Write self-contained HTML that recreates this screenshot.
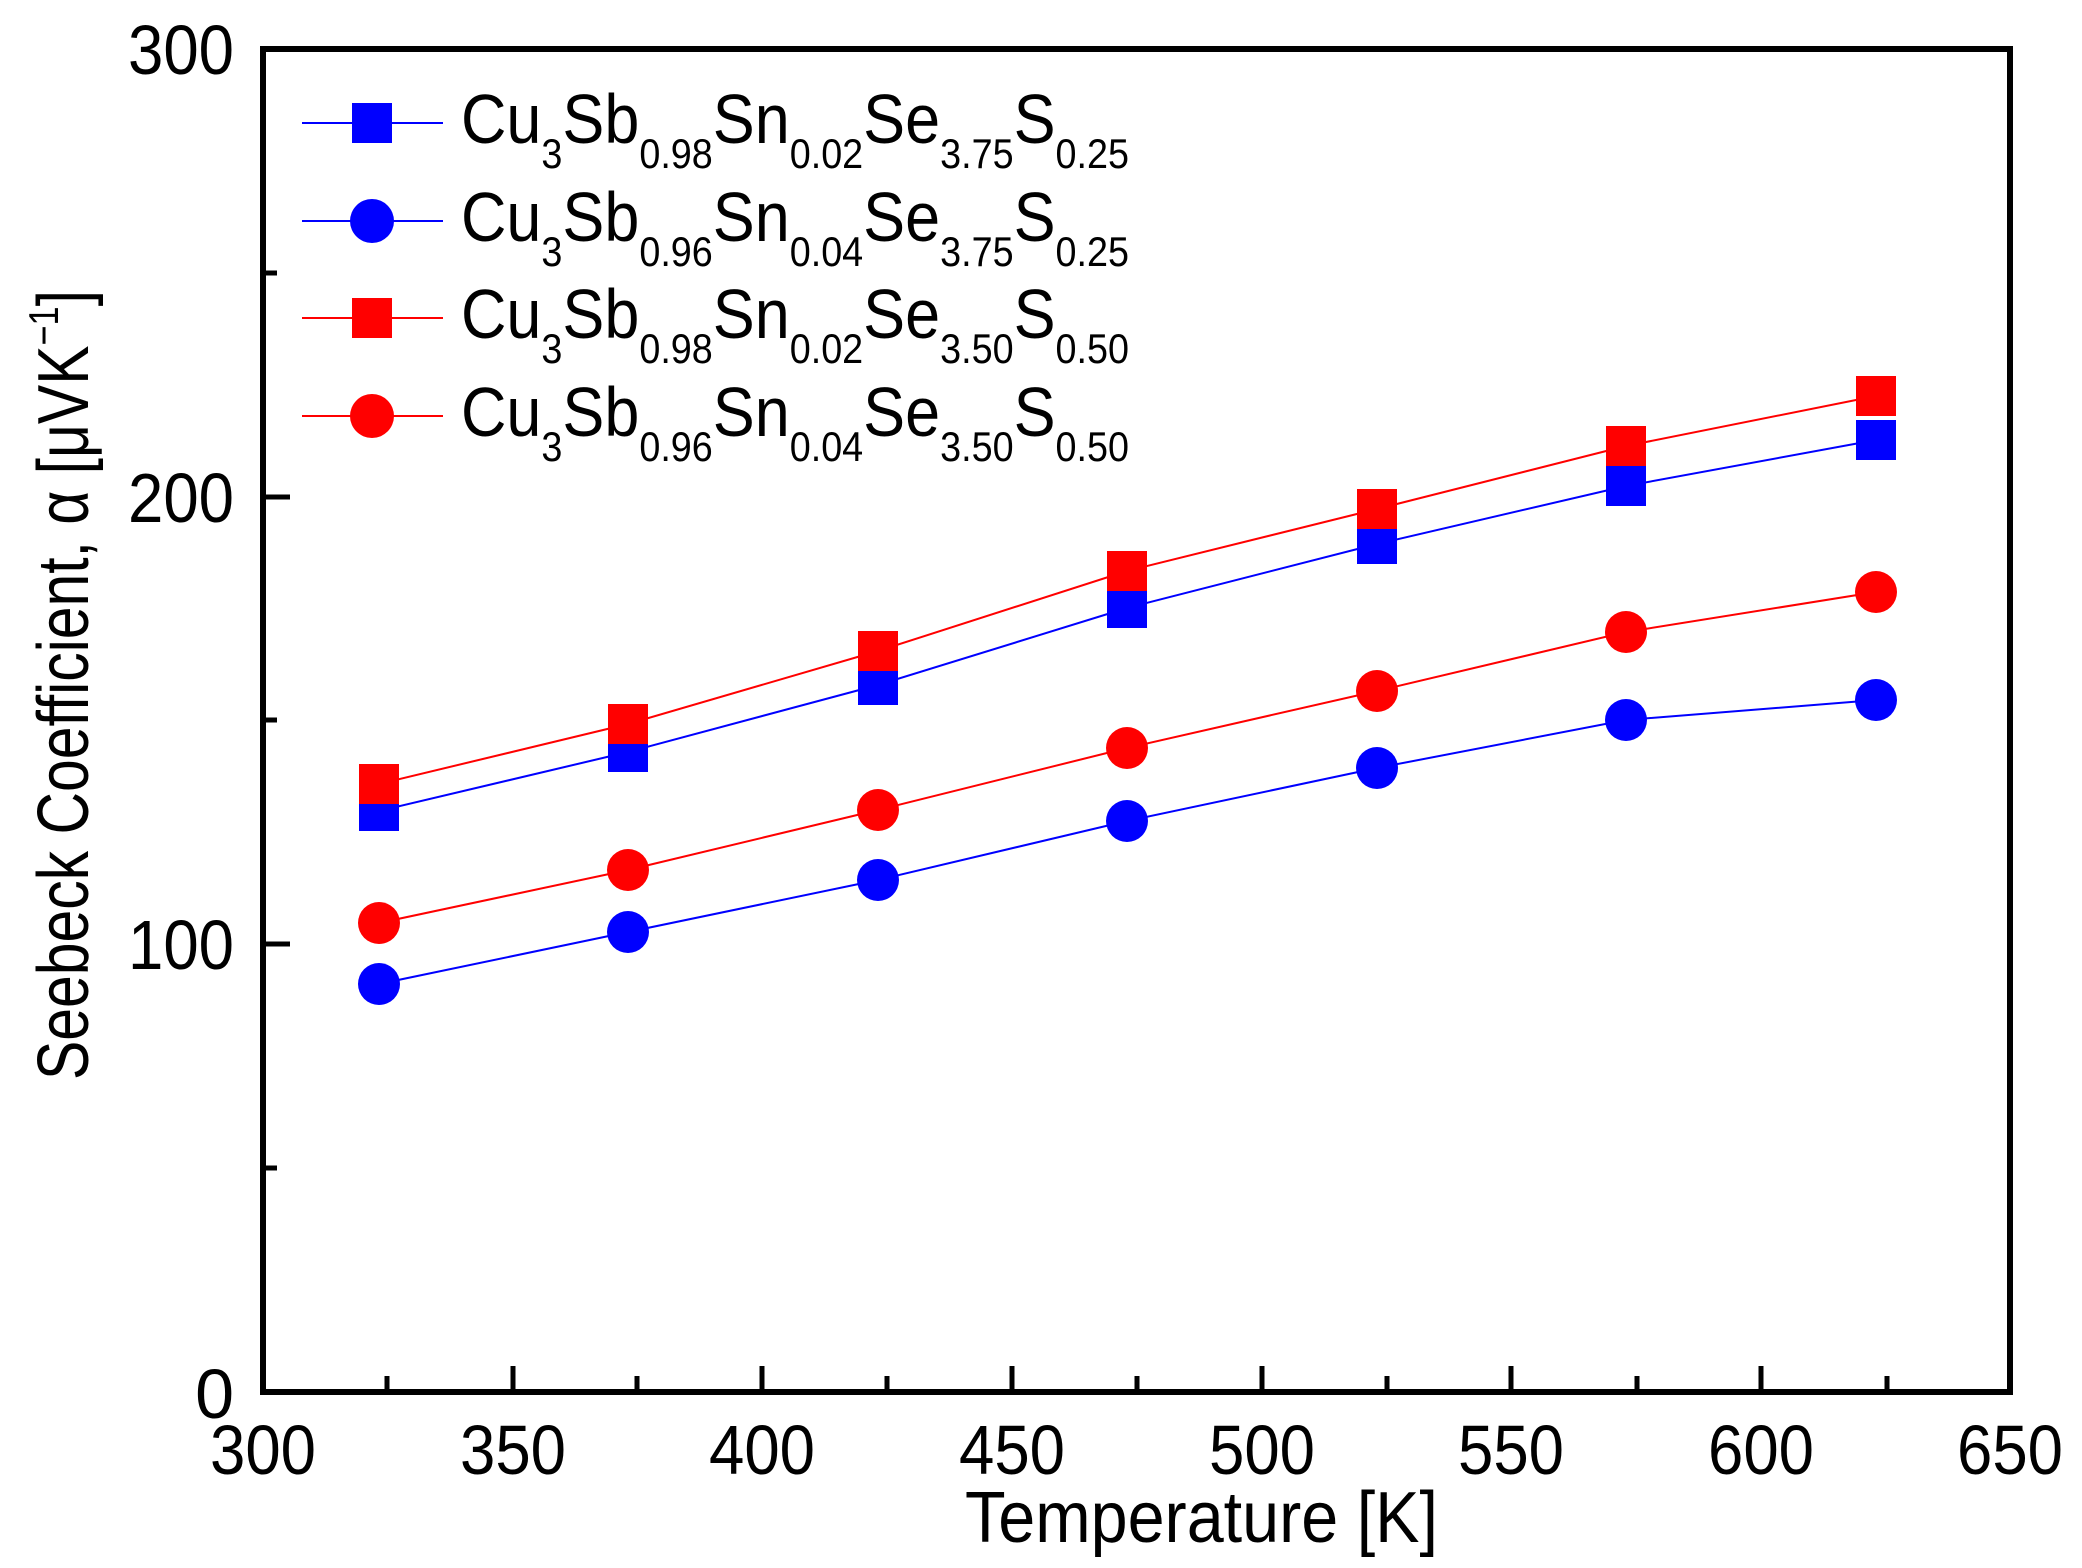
<!DOCTYPE html>
<html><head><meta charset="utf-8"><style>html,body{margin:0;padding:0;background:#fff}svg{display:block}</style></head>
<body>
<svg width="2082" height="1568" viewBox="0 0 2082 1568" xmlns="http://www.w3.org/2000/svg" font-family="'Liberation Sans', Arial, sans-serif">
<rect width="2082" height="1568" fill="#fff"/>
<g stroke="#000" stroke-width="5">
<line x1="513" y1="1392" x2="513" y2="1366"/>
<line x1="762" y1="1392" x2="762" y2="1366"/>
<line x1="1012" y1="1392" x2="1012" y2="1366"/>
<line x1="1262" y1="1392" x2="1262" y2="1366"/>
<line x1="1511" y1="1392" x2="1511" y2="1366"/>
<line x1="1761" y1="1392" x2="1761" y2="1366"/>
<line x1="387" y1="1392" x2="387" y2="1376"/>
<line x1="637" y1="1392" x2="637" y2="1376"/>
<line x1="887" y1="1392" x2="887" y2="1376"/>
<line x1="1137" y1="1392" x2="1137" y2="1376"/>
<line x1="1387" y1="1392" x2="1387" y2="1376"/>
<line x1="1637" y1="1392" x2="1637" y2="1376"/>
<line x1="1887" y1="1392" x2="1887" y2="1376"/>
<line x1="263" y1="944" x2="290" y2="944"/>
<line x1="263" y1="497" x2="290" y2="497"/>
<line x1="263" y1="1168" x2="277" y2="1168"/>
<line x1="263" y1="720" x2="277" y2="720"/>
<line x1="263" y1="273" x2="277" y2="273"/>
</g>
<rect x="263" y="49" width="1747" height="1343" fill="none" stroke="#000" stroke-width="6"/>
<g font-size="70" fill="#000" text-anchor="middle">
<text x="263" y="1474" textLength="106" lengthAdjust="spacingAndGlyphs">300</text>
<text x="513" y="1474" textLength="106" lengthAdjust="spacingAndGlyphs">350</text>
<text x="762" y="1474" textLength="106" lengthAdjust="spacingAndGlyphs">400</text>
<text x="1012" y="1474" textLength="106" lengthAdjust="spacingAndGlyphs">450</text>
<text x="1262" y="1474" textLength="106" lengthAdjust="spacingAndGlyphs">500</text>
<text x="1511" y="1474" textLength="106" lengthAdjust="spacingAndGlyphs">550</text>
<text x="1761" y="1474" textLength="106" lengthAdjust="spacingAndGlyphs">600</text>
<text x="2010" y="1474" textLength="106" lengthAdjust="spacingAndGlyphs">650</text>
</g>
<g font-size="70" fill="#000" text-anchor="end">
<text x="234" y="1418">0</text>
<text x="234" y="969" textLength="106" lengthAdjust="spacingAndGlyphs">100</text>
<text x="234" y="522" textLength="106" lengthAdjust="spacingAndGlyphs">200</text>
<text x="234" y="74" textLength="106" lengthAdjust="spacingAndGlyphs">300</text>
</g>
<text x="965" y="1542" font-size="72" textLength="473" lengthAdjust="spacingAndGlyphs">Temperature [K]</text>
<text transform="translate(88,1080) rotate(-90)" font-size="72" textLength="790" lengthAdjust="spacingAndGlyphs">Seebeck Coefficient, α [μVK<tspan font-size="42" dy="-30">−1</tspan><tspan dy="30">]</tspan></text>
<g stroke-width="2" fill="none">
<polyline stroke="#0000ff" points="379,811 628,752 878,685 1127,608 1377,544 1626,486 1876,440"/>
<polyline stroke="#0000ff" points="379,984 628,932 878,880 1127,821 1377,768 1626,720 1876,700"/>
<polyline stroke="#ff0000" points="379,784 628,724 878,651 1127,571 1377,509 1626,446 1876,396"/>
<polyline stroke="#ff0000" points="379,923 628,870 878,810 1127,748 1377,691 1626,632 1876,592"/>
</g>
<g fill="#0000ff">
<rect x="359" y="791" width="40" height="40"/><rect x="608" y="732" width="40" height="40"/><rect x="858" y="665" width="40" height="40"/><rect x="1107" y="588" width="40" height="40"/><rect x="1357" y="524" width="40" height="40"/><rect x="1606" y="466" width="40" height="40"/><rect x="1856" y="420" width="40" height="40"/>
<circle cx="379" cy="984" r="21"/><circle cx="628" cy="932" r="21"/><circle cx="878" cy="880" r="21"/><circle cx="1127" cy="821" r="21"/><circle cx="1377" cy="768" r="21"/><circle cx="1626" cy="720" r="21"/><circle cx="1876" cy="700" r="21"/>
</g>
<g fill="#ff0000">
<rect x="359" y="764" width="40" height="40"/><rect x="608" y="704" width="40" height="40"/><rect x="858" y="631" width="40" height="40"/><rect x="1107" y="551" width="40" height="40"/><rect x="1357" y="489" width="40" height="40"/><rect x="1606" y="426" width="40" height="40"/><rect x="1856" y="376" width="40" height="40"/>
<circle cx="379" cy="923" r="21"/><circle cx="628" cy="870" r="21"/><circle cx="878" cy="810" r="21"/><circle cx="1127" cy="748" r="21"/><circle cx="1377" cy="691" r="21"/><circle cx="1626" cy="632" r="21"/><circle cx="1876" cy="592" r="21"/>
</g>
<g stroke-width="2">
<line x1="302" y1="123" x2="443" y2="123" stroke="#0000ff"/>
<line x1="302" y1="221" x2="443" y2="221" stroke="#0000ff"/>
<line x1="302" y1="318" x2="443" y2="318" stroke="#ff0000"/>
<line x1="302" y1="416" x2="443" y2="416" stroke="#ff0000"/>
</g>
<rect x="352" y="103" width="40" height="40" fill="#0000ff"/>
<circle cx="372" cy="221" r="22" fill="#0000ff"/>
<rect x="352" y="298" width="40" height="40" fill="#ff0000"/>
<circle cx="372" cy="416" r="22" fill="#ff0000"/>
<g font-size="70" fill="#000">
<text x="461" y="143" textLength="668" lengthAdjust="spacingAndGlyphs">Cu<tspan font-size="42" dy="25">3</tspan><tspan dy="-25">Sb</tspan><tspan font-size="42" dy="25">0.98</tspan><tspan dy="-25">Sn</tspan><tspan font-size="42" dy="25">0.02</tspan><tspan dy="-25">Se</tspan><tspan font-size="42" dy="25">3.75</tspan><tspan dy="-25">S</tspan><tspan font-size="42" dy="25">0.25</tspan></text>
<text x="461" y="241" textLength="668" lengthAdjust="spacingAndGlyphs">Cu<tspan font-size="42" dy="25">3</tspan><tspan dy="-25">Sb</tspan><tspan font-size="42" dy="25">0.96</tspan><tspan dy="-25">Sn</tspan><tspan font-size="42" dy="25">0.04</tspan><tspan dy="-25">Se</tspan><tspan font-size="42" dy="25">3.75</tspan><tspan dy="-25">S</tspan><tspan font-size="42" dy="25">0.25</tspan></text>
<text x="461" y="338" textLength="668" lengthAdjust="spacingAndGlyphs">Cu<tspan font-size="42" dy="25">3</tspan><tspan dy="-25">Sb</tspan><tspan font-size="42" dy="25">0.98</tspan><tspan dy="-25">Sn</tspan><tspan font-size="42" dy="25">0.02</tspan><tspan dy="-25">Se</tspan><tspan font-size="42" dy="25">3.50</tspan><tspan dy="-25">S</tspan><tspan font-size="42" dy="25">0.50</tspan></text>
<text x="461" y="436" textLength="668" lengthAdjust="spacingAndGlyphs">Cu<tspan font-size="42" dy="25">3</tspan><tspan dy="-25">Sb</tspan><tspan font-size="42" dy="25">0.96</tspan><tspan dy="-25">Sn</tspan><tspan font-size="42" dy="25">0.04</tspan><tspan dy="-25">Se</tspan><tspan font-size="42" dy="25">3.50</tspan><tspan dy="-25">S</tspan><tspan font-size="42" dy="25">0.50</tspan></text>
</g>
</svg>
</body></html>
